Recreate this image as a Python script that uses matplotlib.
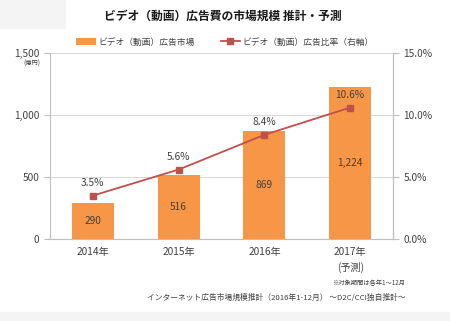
import numpy as np
import matplotlib.pyplot as plt
from matplotlib.patches import Rectangle

plt.rcParams['font.family'] = ['Noto Sans CJK JP', 'DejaVu Sans']

# データ
years = ['2014年', '2015年', '2016年', '2017年\n(予測)']
market = [290, 516, 869, 1224]
ratio = [3.5, 5.6, 8.4, 10.6]

bar_color = '#F79646'
line_color = '#C0504D'
txt = '#404040'

fig = plt.figure(figsize=(4.5, 3.21), dpi=100)
fig.patch.set_facecolor('white')
# 背景の灰色部分
fig.patches.append(Rectangle((0, 0), 1, 9/321, transform=fig.transFigure,
                             color='#f4f4f4', zorder=0))
fig.patches.append(Rectangle((0, 1 - 28/321), 65/450, 28/321, transform=fig.transFigure,
                             color='#f4f4f4', zorder=0))

ax = fig.add_axes([50/450, 1 - 239/321, 343/450, 186/321])
x = np.arange(len(years))
ax.bar(x, market, width=0.49, color=bar_color, zorder=2, label='ビデオ（動画）広告市場')
ax.set_xlim(-0.5, 3.5)
ax.set_ylim(0, 1500)
ax.set_yticks([0, 500, 1000, 1500])
ax.set_yticklabels(['0', '500', '1,000', '1,500'])
ax.grid(axis='y', color='#d9d9d9', linewidth=0.8, zorder=0)
ax.set_xticks(x)
ax.set_xticklabels(years, color=txt, fontsize=7.3, linespacing=1.5)
ax.tick_params(axis='x', length=0, pad=6)
ax.tick_params(axis='y', labelsize=7.3, colors=txt, length=4, color='#bfbfbf', width=0.8)
for s in ['top']:
    ax.spines[s].set_visible(False)
for s in ['left', 'bottom', 'right']:
    ax.spines[s].set_color('#bfbfbf')

for xi, v in zip(x, market):
    ax.text(xi, v / 2, f'{v:,}', ha='center', va='center', fontsize=7.3, color=txt, zorder=5)

ax2 = ax.twinx()
ax2.plot(x, ratio, color=line_color, marker='s', markersize=4.5, linewidth=1.3,
         label='ビデオ（動画）広告比率（右軸）', zorder=4)
ax2.set_ylim(0, 15)
ax2.set_yticks([0, 5, 10, 15])
ax2.set_yticklabels(['0.0%', '5.0%', '10.0%', '15.0%'])
ax2.tick_params(axis='y', labelsize=7.3, colors=txt, length=4, color='#bfbfbf', width=0.8)
for s in ['top', 'left', 'bottom']:
    ax2.spines[s].set_visible(False)
ax2.spines['right'].set_color('#bfbfbf')
for xi, v in zip(x, ratio):
    ax2.text(xi, v + 0.65, f'{v}%', ha='center', va='bottom', fontsize=7.3, color=txt)

fig.text(223/450, 1 - 16/321, 'ビデオ（動画）広告費の市場規模 推計・予測', ha='center', va='center',
         fontsize=8.5, fontweight='bold', color='#1a1a1a')
fig.text(32/450, 1 - 64/321, '(億円)', ha='center', va='center', fontsize=4.5, color=txt)

h1, l1 = ax.get_legend_handles_labels()
h2, l2 = ax2.get_legend_handles_labels()
fig.legend(h1 + h2, l1 + l2, loc='center', bbox_to_anchor=(225/450, 1 - 42/321), ncol=2,
           frameon=False, fontsize=6.3, labelcolor=txt, handlelength=2.2, columnspacing=3,
           handletextpad=0.3)

fig.text(405/450, 1 - 283/321, '※対象期間は各年1～12月', ha='right', va='center', fontsize=4.5, color=txt)
fig.text(147/450, 1 - 298/321, 'インターネット広告市場規模推計（2016年1-12月） ～D2C/CCI独自推計～',
         ha='left', va='center', fontsize=5.6, color=txt)

fig.savefig('out.png', dpi=100)
